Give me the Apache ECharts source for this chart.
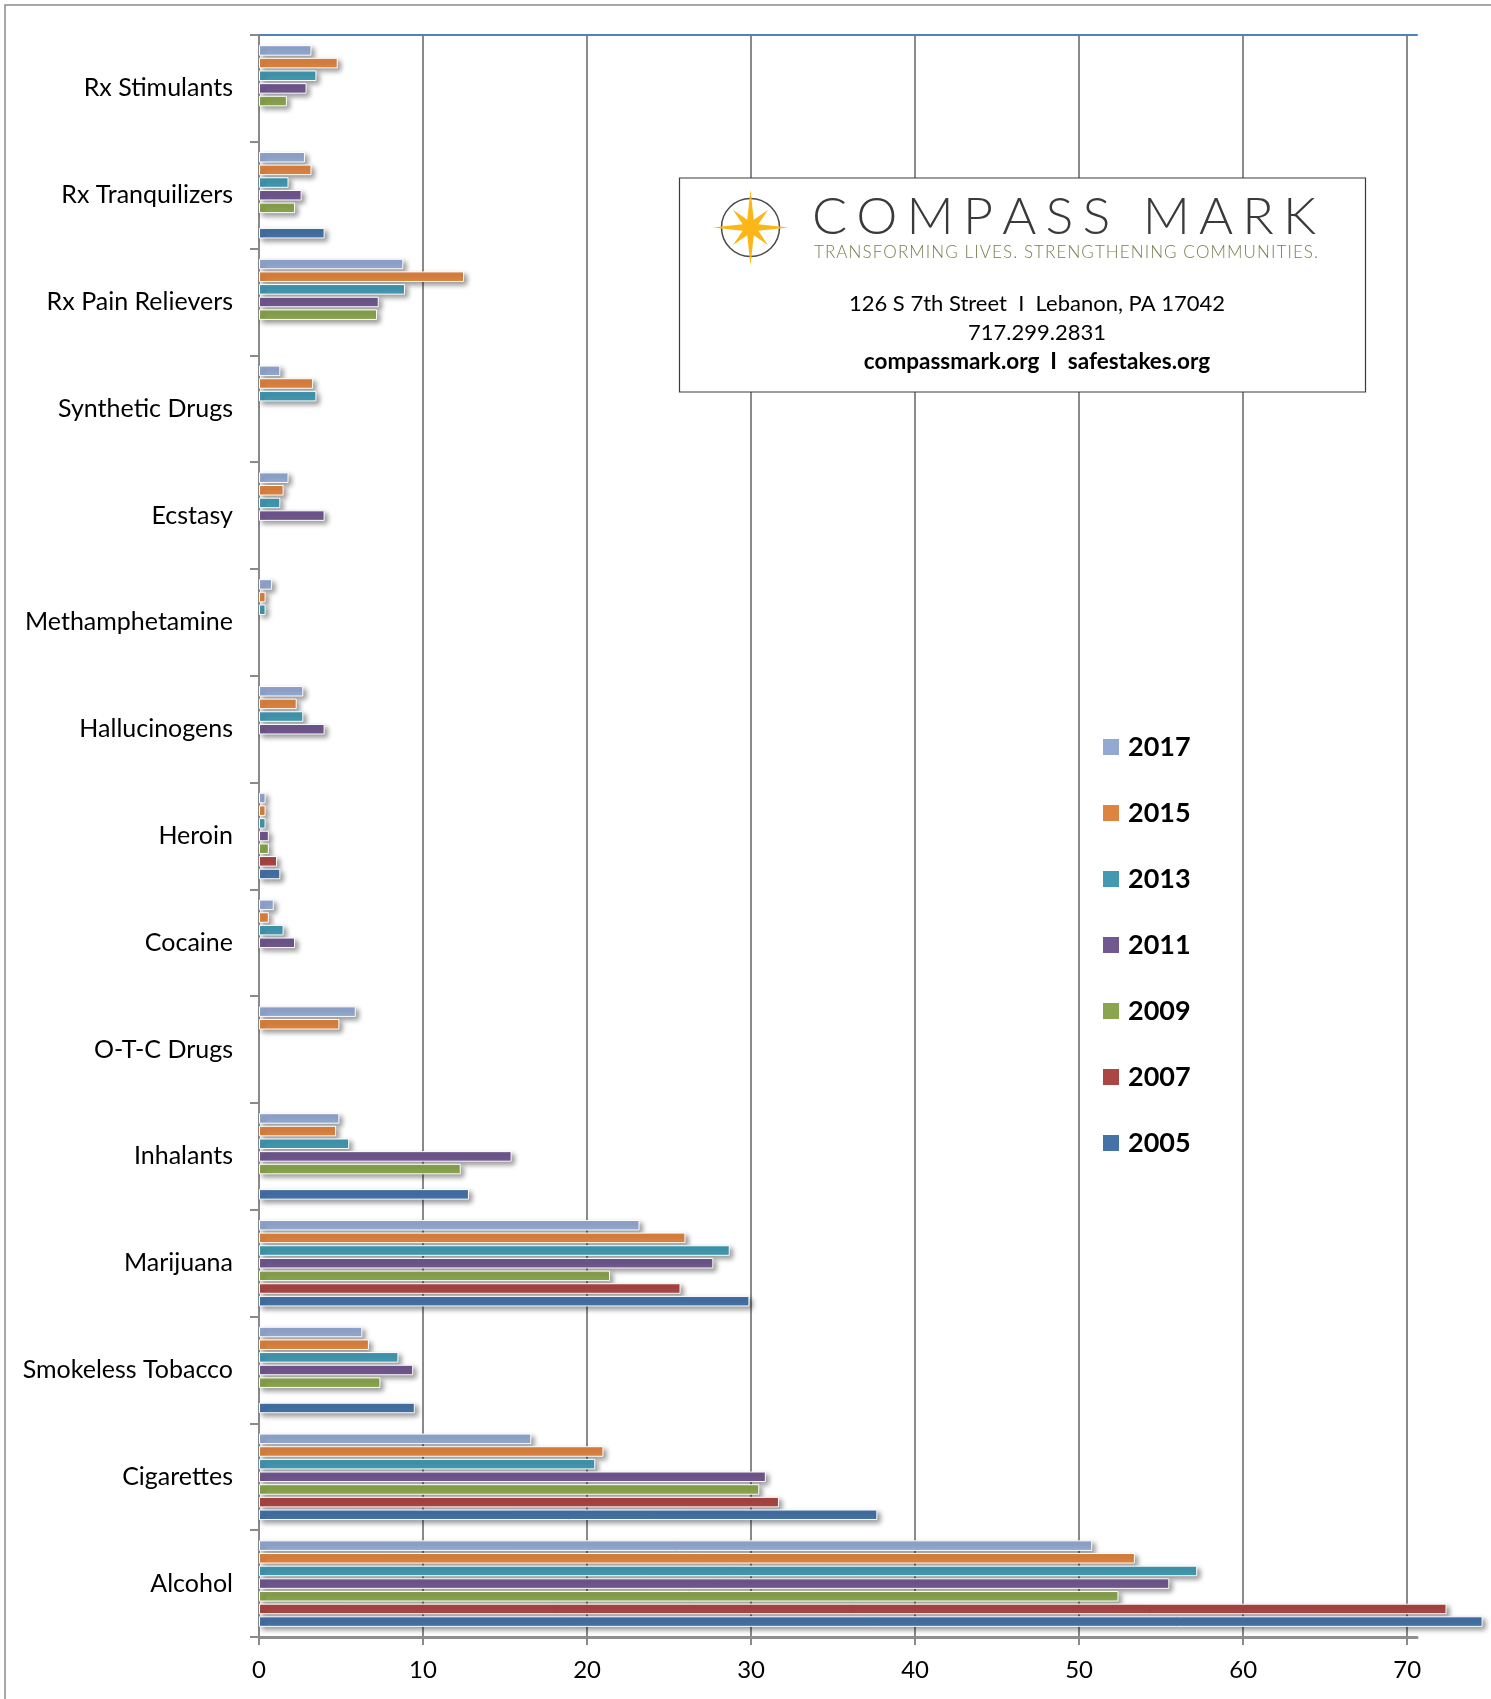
<!DOCTYPE html>
<html>
<head>
<meta charset="utf-8">
<script src="https://cdn.jsdelivr.net/npm/echarts@6/dist/echarts.min.js"></script>
<style>
  html, body { margin: 0; padding: 0; background: #fff; }
  #chart { width: 1491px; height: 1699px; }
</style>
</head>
<body>
<div id="chart"></div>
<script>
// categories, top to bottom
const categories = [
  "Rx Stimulants", "Rx Tranquilizers", "Rx Pain Relievers", "Synthetic Drugs",
  "Ecstasy", "Methamphetamine", "Hallucinogens", "Heroin", "Cocaine",
  "O-T-C Drugs", "Inhalants", "Marijuana", "Smokeless Tobacco", "Cigarettes", "Alcohol"
];
const years = ["2017", "2015", "2013", "2011", "2009", "2007", "2005"];

// values per year (null = no bar)
const v2017 = [3.2, 2.8, 8.8, 1.3, 1.8, 0.8, 2.7, 0.4, 0.9, 5.9, 4.9, 23.2, 6.3, 16.6, 50.8];
const v2015 = [4.8, 3.2, 12.5, 3.3, 1.5, 0.4, 2.3, 0.4, 0.6, 4.9, 4.7, 26.0, 6.7, 21.0, 53.4];
const v2013 = [3.5, 1.8, 8.9, 3.5, 1.3, 0.4, 2.7, 0.4, 1.5, null, 5.5, 28.7, 8.5, 20.5, 57.2];
const v2011 = [2.9, 2.6, 7.3, null, 4.0, null, 4.0, 0.6, 2.2, null, 15.4, 27.7, 9.4, 30.9, 55.5];
const v2009 = [1.7, 2.2, 7.2, null, null, null, null, 0.6, null, null, 12.3, 21.4, 7.4, 30.5, 52.4];
const v2007 = [null, null, null, null, null, null, null, 1.1, null, null, null, 25.7, null, 31.7, 72.4];
const v2005 = [null, 4.0, null, null, null, null, null, 1.3, null, null, 12.8, 29.9, 9.5, 37.7, 74.6];

const xTicks = [0, 10, 20, 30, 40, 50, 60, 70];
const xMax = 70.6;

const yearData = [v2017, v2015, v2013, v2011, v2009, v2007, v2005];
const colors = ["#94a9d1", "#de8440", "#4299b1", "#71588f", "#8aa54e", "#aa4644", "#4572a7"];
const font = "Lato, 'Open Sans', sans-serif";
const gridColor = "#8a8a8a";

// letter-spaced text for the logo (one text element per letter)
function spacedText(str, x, y, size, weight, color, totalWidth) {
  const ctx = document.createElement("canvas").getContext("2d");
  ctx.font = weight + " " + size + "px Lato";
  const chars = Array.from(str);
  const widths = chars.map((c) => ctx.measureText(c).width);
  const natural = widths.reduce((a, b) => a + b, 0);
  const gap = (totalWidth - natural) / (chars.length - 1);
  let cx = x;
  return chars.map((c, i) => {
    const el = {
      type: "text", x: cx, y: y, z: 102, silent: true,
      style: {
        text: c, fill: color, fontFamily: "Lato", fontSize: size, fontWeight: weight,
        textAlign: "left", textVerticalAlign: "middle", align: "left", verticalAlign: "middle"
      }
    };
    cx += widths[i] + gap;
    return el;
  });
}

// compass star
function starPoints(cx, cy) {
  const radii = [38, 8.5, 25, 8.5];
  const pts = [];
  for (let k = 0; k < 16; k++) {
    const a = (k * 22.5 * Math.PI) / 180;
    const r = radii[k % 4];
    pts.push([cx + r * Math.cos(a), cy - r * Math.sin(a)]);
  }
  return pts;
}

function centerText(str, y, size, weight) {
  return {
    type: "text", x: 1037, y: y, z: 102, silent: true,
    style: {
      text: str, fill: "#000", fontFamily: "Lato", fontSize: size, fontWeight: weight,
      textAlign: "center", textVerticalAlign: "middle", align: "center", verticalAlign: "middle"
    }
  };
}

const chart = echarts.init(document.getElementById("chart"));

const option = {
  backgroundColor: "#fff",
  animation: false,
  grid: { left: 259, right: 74, top: 35, bottom: 62 },
  legend: {
    data: years,
    orient: "vertical",
    left: 1103,
    top: 733,
    padding: 0,
    itemWidth: 16,
    itemHeight: 16,
    itemGap: 38,
    icon: "rect",
    itemStyle: { borderWidth: 0, shadowBlur: 0, shadowOffsetX: 0, shadowOffsetY: 0 },
    textStyle: {
      fontFamily: font, fontSize: 27, fontWeight: "bold", color: "#000",
      lineHeight: 28, padding: [0, 0, 0, 4]
    }
  },
  xAxis: [
    {
      type: "value",
      position: "bottom",
      min: 0,
      max: xMax,
      interval: 10,
      axisLine: { show: true, lineStyle: { color: "#8e8e8e", width: 3 } },
      axisTick: { show: true, length: 8, customValues: xTicks, lineStyle: { color: gridColor, width: 2 } },
      axisLabel: { customValues: xTicks, fontFamily: font, fontSize: 24, color: "#000", margin: 21 },
      splitLine: { show: true, lineStyle: { color: gridColor, width: 2 } }
    },
    {
      type: "value",
      position: "top",
      min: 0,
      max: xMax,
      axisLine: { show: true, lineStyle: { color: "#4f81bd", width: 2 } },
      axisTick: { show: false },
      axisLabel: { show: false },
      splitLine: { show: false }
    }
  ],
  yAxis: {
    type: "category",
    data: categories,
    inverse: true,
    axisLine: { show: true, lineStyle: { color: gridColor, width: 2 } },
    axisTick: { show: true, length: 9, lineStyle: { color: gridColor, width: 2 } },
    axisLabel: { fontFamily: font, fontSize: 25, color: "#000", margin: 26 },
    splitLine: { show: false }
  },
  series: years.map((y, i) => ({
    name: y,
    type: "bar",
    data: yearData[i],
    clip: false,
    barGap: "20%",
    barCategoryGap: "19%",
    itemStyle: {
      color: colors[i],
      borderColor: "#fff",
      borderWidth: 1,
      shadowBlur: 5,
      shadowColor: "rgba(0,0,0,0.4)",
      shadowOffsetX: 3,
      shadowOffsetY: 3
    }
  })),
  graphic: [
    {
      type: "rect", z: -10, silent: true,
      shape: { x: 5, y: 5, width: 1600, height: 1800 },
      style: { fill: "none", stroke: "#8c8c8c", lineWidth: 1.5 }
    },
    {
      type: "rect", z: 100, silent: true,
      shape: { x: 679.5, y: 178, width: 686, height: 214 },
      style: { fill: "#fff", stroke: "#3a3a3a", lineWidth: 1.2 }
    },
    {
      type: "circle", z: 101, silent: true,
      shape: { cx: 750.5, cy: 227.5, r: 29 },
      style: { fill: "none", stroke: "#4a4a4a", lineWidth: 1.5 }
    },
    {
      type: "polygon", z: 102, silent: true,
      shape: { points: starPoints(750.5, 227.5) },
      style: { fill: "#fbb718" }
    },
    ...spacedText("COMPASS MARK", 812, 217, 52, "300", "#3a3a3a", 504),
    ...spacedText("TRANSFORMING LIVES. STRENGTHENING COMMUNITIES.", 814, 253, 17, "300", "#7a7c4e", 504),
    centerText("126 S 7th Street  I  Lebanon, PA 17042", 304, 22, "normal"),
    centerText("717.299.2831", 333, 22, "normal"),
    centerText("compassmark.org  I  safestakes.org", 362, 22.5, "bold")
  ]
};

chart.setOption(option);
</script>
</body>
</html>
